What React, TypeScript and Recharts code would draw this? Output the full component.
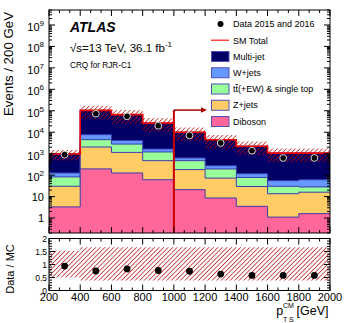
import React from "react";
import {
  Area,
  ComposedChart,
  Line,
  ReferenceDot,
  ReferenceLine,
  Scatter,
  XAxis,
  YAxis,
} from "recharts";

// bins of 200 GeV
const binLow = [200, 400, 600, 800, 1000, 1200, 1400, 1600, 1800];
const binCenter = [300, 500, 700, 900, 1100, 1300, 1500, 1700, 1900];
const xMax = 2000;

// backgrounds, events per bin (stack order bottom -> top)
const diboson = [3.3, 195, 126, 61, 21, 8.6, 3.5, 1.1, 1.6];
const zJets = [27, 1850, 1020, 410, 160, 64, 26, 12.5, 14.4];
const ttbar = [52, 2450, 1650, 730, 290, 121, 48, 16.4, 12];
const wJets = [44, 3200, 1350, 450, 160, 81, 39, 25, 33];
const multiJet = [840, 97000, 62000, 25000, 9400, 4200, 2100, 1000, 1000];

const dataEvents = [900, 73000, 55000, 20000, 7100, 3150, 1380, 630, 630];
const dataRatio = [0.94, 0.75, 0.83, 0.77, 0.74, 0.63, 0.58, 0.58, 0.58];
const uncDown = [0.5, 0.38, 0.38, 0.38, 0.38, 0.38, 0.38, 0.38, 0.38];
const uncUp = [1.53, 1.66, 1.66, 1.66, 1.66, 1.66, 1.66, 1.66, 1.66];

const xLabels = [200, 400, 600, 800, 1000, 1200, 1400, 1600, 1800, 2000];
const ratioLabels = [0, 0.5, 1, 1.5, 2];

const legendItems = [
  { name: "Multi-jet", color: "#000066" },
  { name: "W+jets", color: "#6699ff" },
  { name: "ttbar", color: "#99ff99" },
  { name: "Z+jets", color: "#ffcc66" },
  { name: "Diboson", color: "#ff6699" },
];

const FONT = '"Liberation Sans", Arial, Helvetica, sans-serif';
const EDGE = "#3b3bb0";
const PLOT_L = 49;
const PLOT_R = 330;
const MAIN_T = 10;
const MAIN_B = 233;
const RATIO_OFF = 234;
const RATIO_T = 4.5;
const RATIO_B = 56.5;

const stackTops = binLow.map((_, i) => {
  const d = diboson[i];
  const z = d + zJets[i];
  const t = z + ttbar[i];
  const w = t + wJets[i];
  const m = w + multiJet[i];
  return { d, z, t, w, m };
});

const rows = [...binLow, xMax].map((x, k) => {
  const i = Math.min(k, binLow.length - 1);
  const s = stackTops[i];
  return {
    x,
    ...s,
    band: [s.m * uncDown[i], s.m * uncUp[i]],
    rband: [uncDown[i], uncUp[i]],
  };
});

const mainPoints = binCenter.map((x, i) => ({ x, y: dataEvents[i] }));
const ratioPoints = binCenter.map((x, i) => ({ x, y: dataRatio[i] }));

const logTicks: number[] = [];
for (let d = -1; d <= 9; d++) {
  for (let m = 1; m <= 9; m++) {
    const v = m * Math.pow(10, d);
    if (v >= 0.2 && v <= 5e9) logTicks.push(v);
  }
}
const xTicks: number[] = [];
for (let k = 0; k <= 27; k++) xTicks.push(200 + (k * 200) / 3);
const ratioTicks: number[] = [];
for (let k = 0; k <= 20; k++) ratioTicks.push(k / 10);

const isMajorX = (v: number) => xLabels.some((l) => Math.abs(l - v) < 1e-6);

function MainYTick(props: any) {
  const { y, payload } = props;
  const lg = Math.log10(payload.value);
  const n = Math.round(lg);
  const major = Math.abs(lg - n) < 1e-6;
  const len = major ? 6 : 3;
  return (
    <g>
      <line x1={PLOT_L} x2={PLOT_L + len} y1={y} y2={y} stroke="#000" />
      <line x1={PLOT_R - len} x2={PLOT_R} y1={y} y2={y} stroke="#000" />
      {major && n <= 1 && (
        <text x={44} y={y + 4} textAnchor="end" fontSize={11} fontFamily={FONT}>
          {n === 0 ? "1" : "10"}
        </text>
      )}
      {major && n > 1 && (
        <text x={44} y={y + 6} textAnchor="end" fontSize={11} fontFamily={FONT}>
          10
          <tspan dy={-5} fontSize={8}>
            {n}
          </tspan>
        </text>
      )}
    </g>
  );
}

function MainXTick(props: any) {
  const { x, payload } = props;
  const len = isMajorX(payload.value) ? 6 : 3;
  return (
    <g>
      <line x1={x} x2={x} y1={MAIN_B} y2={MAIN_B - len} stroke="#000" />
      <line x1={x} x2={x} y1={MAIN_T} y2={MAIN_T + len} stroke="#000" />
    </g>
  );
}

function RatioYTick(props: any) {
  const { y, payload } = props;
  const v = payload.value;
  const major = ratioLabels.some((l) => Math.abs(l - v) < 1e-6);
  const len = major ? 6 : 3;
  return (
    <g>
      <line x1={PLOT_L} x2={PLOT_L + len} y1={y} y2={y} stroke="#000" />
      <line x1={PLOT_R - len} x2={PLOT_R} y1={y} y2={y} stroke="#000" />
      {major && (
        <text x={47} y={y + 3} textAnchor="end" fontSize={8.5} fontFamily={FONT}>
          {String(Math.round(v * 10) / 10)}
        </text>
      )}
    </g>
  );
}

function RatioXTick(props: any) {
  const { x, payload } = props;
  const major = isMajorX(payload.value);
  const len = major ? 6 : 3;
  return (
    <g>
      <line x1={x} x2={x} y1={RATIO_B} y2={RATIO_B - len} stroke="#000" />
      <line x1={x} x2={x} y1={RATIO_T} y2={RATIO_T + len} stroke="#000" />
      {major && (
        <text x={x} y={RATIO_B + 10.5} textAnchor="middle" fontSize={11} fontFamily={FONT}>
          {Math.round(payload.value)}
        </text>
      )}
    </g>
  );
}

const hatch = (id: string) => (
  <defs>
    <pattern id={id} width={3.2} height={3.2} patternUnits="userSpaceOnUse" patternTransform="rotate(45)">
      <line x1={0} y1={0} x2={0} y2={3.2} stroke="#b80000" strokeWidth={1.3} />
    </pattern>
  </defs>
);

export default function App() {
  return (
    <div style={{ position: "absolute", left: 0, top: 0, width: 349, height: 323, background: "#fff" }}>
      <div style={{ position: "absolute", left: 0, top: 0 }}>
        <ComposedChart width={349} height={235} data={rows} margin={{ top: 10, right: 19, bottom: 1, left: 0 }}>
          {hatch("hatchMain")}
          <Area type="stepAfter" dataKey="m" fill="#000066" stroke="#000066" fillOpacity={1} isAnimationActive={false} baseValue={0.2} />
          <Area type="stepAfter" dataKey="w" fill="#6699ff" stroke={EDGE} fillOpacity={1} isAnimationActive={false} baseValue={0.2} />
          <Area type="stepAfter" dataKey="t" fill="#99ff99" stroke={EDGE} fillOpacity={1} isAnimationActive={false} baseValue={0.2} />
          <Area type="stepAfter" dataKey="z" fill="#ffcc66" stroke={EDGE} fillOpacity={1} isAnimationActive={false} baseValue={0.2} />
          <Area type="stepAfter" dataKey="d" fill="#ff6699" stroke={EDGE} fillOpacity={1} isAnimationActive={false} baseValue={0.2} />
          <Area type="stepAfter" dataKey="band" fill="url(#hatchMain)" stroke="none" fillOpacity={1} isAnimationActive={false} />
          <Line type="stepAfter" dataKey="m" stroke="#ee0000" strokeWidth={1.6} dot={false} isAnimationActive={false} />
          <ReferenceLine segment={[{ x: 1000, y: 0.2 }, { x: 1000, y: 1.08e5 }]} stroke="#cc0000" strokeWidth={2} />
          <ReferenceLine segment={[{ x: 1000, y: 1.08e5 }, { x: 1180, y: 1.08e5 }]} stroke="#aa0000" strokeWidth={1.5} />
          <ReferenceDot
            x={1212}
            y={1.08e5}
            shape={(p: any) => (
              <polygon points={`${p.cx},${p.cy} ${p.cx - 6},${p.cy - 2.8} ${p.cx - 6},${p.cy + 2.8}`} fill="#aa0000" />
            )}
          />
          <Scatter
            data={mainPoints}
            dataKey="y"
            isAnimationActive={false}
            shape={(p: any) => <circle cx={p.cx} cy={p.cy} r={3.4} fill="#000" stroke="#d8d8d8" strokeWidth={1} />}
          />
          <XAxis
            type="number"
            dataKey="x"
            domain={[200, 2000]}
            ticks={xTicks}
            interval={0}
            height={1}
            tick={MainXTick}
            tickLine={false}
            axisLine={false}
            allowDataOverflow
          />
          <YAxis
            scale="log"
            domain={[0.2, 5e9]}
            ticks={logTicks}
            interval={0}
            width={49}
            tick={MainYTick}
            tickLine={false}
            axisLine={false}
            allowDataOverflow
          />
        </ComposedChart>
      </div>
      <div style={{ position: "absolute", left: 0, top: RATIO_OFF }}>
        <ComposedChart width={349} height={89} data={rows} margin={{ top: RATIO_T, right: 19, bottom: 0, left: 0 }}>
          {hatch("hatchRatio")}
          <Area type="stepAfter" dataKey="rband" fill="url(#hatchRatio)" stroke="none" fillOpacity={1} isAnimationActive={false} />
          <Scatter
            data={ratioPoints}
            dataKey="y"
            isAnimationActive={false}
            shape={(p: any) => <circle cx={p.cx} cy={p.cy} r={3.4} fill="#000" />}
          />
          <XAxis
            type="number"
            dataKey="x"
            domain={[200, 2000]}
            ticks={xTicks}
            interval={0}
            height={89 - RATIO_B}
            tick={RatioXTick}
            tickLine={false}
            axisLine={false}
            allowDataOverflow
          />
          <YAxis
            domain={[0, 2]}
            ticks={ratioTicks}
            interval={0}
            width={49}
            tick={RatioYTick}
            tickLine={false}
            axisLine={false}
            allowDataOverflow
          />
        </ComposedChart>
      </div>
      <svg
        width={349}
        height={323}
        style={{ position: "absolute", left: 0, top: 0, pointerEvents: "none" }}
        fontFamily={FONT}
      >
        <rect x={PLOT_L} y={MAIN_T} width={PLOT_R - PLOT_L} height={MAIN_B - MAIN_T} fill="none" stroke="#000" />
        <rect
          x={PLOT_L}
          y={RATIO_OFF + RATIO_T}
          width={PLOT_R - PLOT_L}
          height={RATIO_B - RATIO_T}
          fill="none"
          stroke="#000"
        />
        <text x={70} y={31.7} fontSize={14} fontWeight="bold" fontStyle="italic">
          ATLAS
        </text>
        <text x={70} y={51.5} fontSize={11.5}>
          {"\u221As=13 TeV, 36.1 fb"}
          <tspan dy={-5} fontSize={8}>
            -1
          </tspan>
        </text>
        <text x={70} y={68} fontSize={8.2}>
          CRQ for RJR-C1
        </text>

        <circle cx={220.5} cy={24} r={3} fill="#000" />
        <text x={233} y={27.2} fontSize={9}>
          Data 2015 and 2016
        </text>
        <line x1={211} x2={229} y1={40.25} y2={40.25} stroke="#ff4444" strokeWidth={1.5} />
        <text x={233} y={43.5} fontSize={9}>
          SM Total
        </text>
        {legendItems.map((item, i) => {
          const cy = 56.5 + i * 16.25;
          return (
            <g key={item.name}>
              <rect x={211.5} y={cy - 5} width={17.5} height={10} fill={item.color} stroke="#5050b8" />
              {item.name === "ttbar" ? (
                <text x={233} y={cy + 3.2} fontSize={9}>
                  t<tspan style={{ textDecoration: "overline" }}>t</tspan>(+EW) &amp; single top
                </text>
              ) : (
                <text x={233} y={cy + 3.2} fontSize={9}>
                  {item.name}
                </text>
              )}
            </g>
          );
        })}

        <text transform="translate(12.5,64) rotate(-90)" textAnchor="middle" fontSize={13.3}>
          Events / 200 GeV
        </text>
        <text transform="translate(13.5,269) rotate(-90)" textAnchor="middle" fontSize={11}>
          Data / MC
        </text>

        <text x={276.3} y={314.5} fontSize={12.5}>
          p
        </text>
        <text x={283} y={308} fontSize={7}>
          CM
        </text>
        <text x={283} y={321.5} fontSize={7}>
          T S
        </text>
        <text x={296.5} y={315} fontSize={12.5}>
          [GeV]
        </text>
      </svg>
    </div>
  );
}
